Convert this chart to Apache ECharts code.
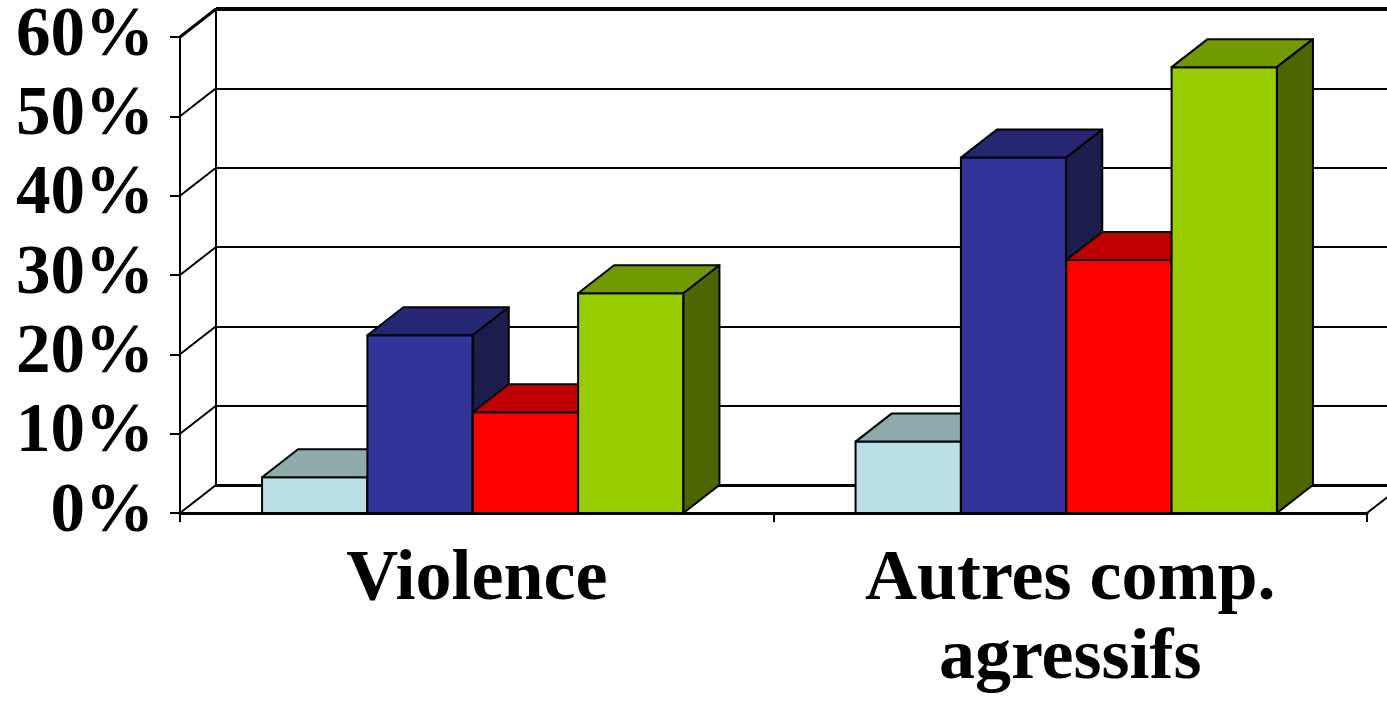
<!DOCTYPE html>
<html>
<head>
<meta charset="utf-8">
<script src="https://cdn.jsdelivr.net/npm/echarts@6/dist/echarts.min.js"></script>
<style>
  html, body { margin: 0; padding: 0; background: #ffffff; }
  #chart { width: 1387px; height: 704px; }
</style>
</head>
<body>
<div id="chart"></div>
<script>
// data (percent)
const categories = ['Violence', 'Autres comp.\nagressifs'];
const seriesNames = ['Série 1', 'Série 2', 'Série 3', 'Série 4'];
const serie1 = [4.5, 9.0];
const serie2 = [22.4, 44.8];
const serie3 = [12.7, 31.9];
const serie4 = [27.7, 56.2];
const yTicks = [0, 10, 20, 30, 40, 50, 60];

// 3d look
const DX = 36, DY = -28;
const BAR_FRAC = 0.71;
const SHIFT = -4;
const faces = [
  { front: '#bbe0e3', top: '#8eaaab', side: '#5e7072' },
  { front: '#333399', top: '#262673', side: '#1c1c4d' },
  { front: '#ff0000', top: '#bf0000', side: '#800000' },
  { front: '#99cc00', top: '#739900', side: '#4d6600' }
];

const chart = echarts.init(document.getElementById('chart'));

const barSeries = (values, idx) => ({
  name: seriesNames[idx],
  type: 'custom',
  xAxisIndex: 0,
  yAxisIndex: 0,
  z: 3 + idx,
  data: values.map((v, i) => [i, v]),
  renderItem: (params, api) => {
    const top = api.coord([api.value(0), api.value(1)]);
    const base = api.coord([api.value(0), 0]);
    const band = api.size([1, 0])[0];
    const w = band * BAR_FRAC / 4;
    const xl = top[0] + SHIFT - 2 * w + idx * w;
    const xr = xl + w;
    const yt = top[1], yb = base[1];
    const c = faces[idx];
    const stroke = { stroke: '#000', lineWidth: 2, lineJoin: 'round' };
    return {
      type: 'group',
      children: [
        { type: 'rect', shape: { x: xl, y: yt, width: w, height: yb - yt }, style: Object.assign({ fill: c.front }, stroke) },
        { type: 'polygon', shape: { points: [[xl, yt], [xl + DX, yt + DY], [xr + DX, yt + DY], [xr, yt]] }, style: Object.assign({ fill: c.top }, stroke) },
        { type: 'polygon', shape: { points: [[xr, yt], [xr + DX, yt + DY], [xr + DX, yb + DY], [xr, yb]] }, style: Object.assign({ fill: c.side }, stroke) }
      ]
    };
  }
});

const frameSeries = {
  type: 'custom',
  xAxisIndex: 0,
  yAxisIndex: 0,
  z: 1,
  silent: true,
  data: yTicks.map(v => [0, v]),
  renderItem: (params, api) => {
    const cs = params.coordSys;
    const v = api.value(1);
    const y = api.coord([0, v])[1];
    const x0 = cs.x, x1 = cs.x + cs.width;
    const children = [
      { type: 'line', shape: { x1: x0, y1: y, x2: x0 + DX, y2: y + DY }, style: { stroke: '#000', lineWidth: v === 60 ? 3 : 2 } }
    ];
    if (v === 0) {
      children.push({ type: 'line', shape: { x1: x1, y1: y, x2: x1 + DX, y2: y + DY }, style: { stroke: '#000', lineWidth: 2 } });
    }
    if (v === 60) {
      children.push({ type: 'line', shape: { x1: x0 + DX, y1: y + DY, x2: x1 + DX + 20, y2: y + DY }, style: { stroke: '#000', lineWidth: 4 } });
    }
    return { type: 'group', children: children };
  }
};

const labelFont = {
  fontFamily: '"Liberation Serif", "Times New Roman", serif',
  fontWeight: 'bold',
  fontSize: 72,
  color: '#000'
};

const option = {
  animation: false,
  backgroundColor: '#ffffff',
  grid: [
    { left: 180, top: 37, width: 1187, height: 476 },
    { left: 180 + DX, top: 37 + DY, width: 1187, height: 476 }
  ],
  xAxis: [
    {
      type: 'category',
      gridIndex: 0,
      data: categories,
      boundaryGap: true,
      axisLine: { show: true, lineStyle: { color: '#000', width: 3 } },
      axisTick: { show: true, length: 9, lineStyle: { color: '#000', width: 2 } },
      axisLabel: Object.assign({ interval: 0, margin: 28, lineHeight: 79 }, labelFont),
      splitLine: { show: false }
    },
    {
      type: 'category',
      gridIndex: 1,
      data: categories,
      axisLine: { show: true, lineStyle: { color: '#000', width: 3 } },
      axisTick: { show: false },
      axisLabel: { show: false },
      splitLine: { show: false }
    }
  ],
  yAxis: [
    {
      type: 'value',
      gridIndex: 0,
      min: 0,
      max: 60,
      interval: 10,
      axisLine: { show: true, lineStyle: { color: '#000', width: 2 } },
      axisTick: { show: true, length: 10, lineStyle: { color: '#000', width: 2 } },
      axisLabel: Object.assign({ margin: 26, formatter: '{value}%' }, labelFont, { fontSize: 69 }),
      splitLine: { show: false }
    },
    {
      type: 'value',
      gridIndex: 1,
      min: 0,
      max: 60,
      interval: 10,
      axisLine: { show: true, lineStyle: { color: '#000', width: 2 } },
      axisTick: { show: false },
      axisLabel: { show: false },
      splitLine: { show: true, lineStyle: { color: '#000', width: 2 } }
    }
  ],
  series: [
    frameSeries,
    barSeries(serie1, 0),
    barSeries(serie2, 1),
    barSeries(serie3, 2),
    barSeries(serie4, 3)
  ]
};

chart.setOption(option);
</script>
</body>
</html>
